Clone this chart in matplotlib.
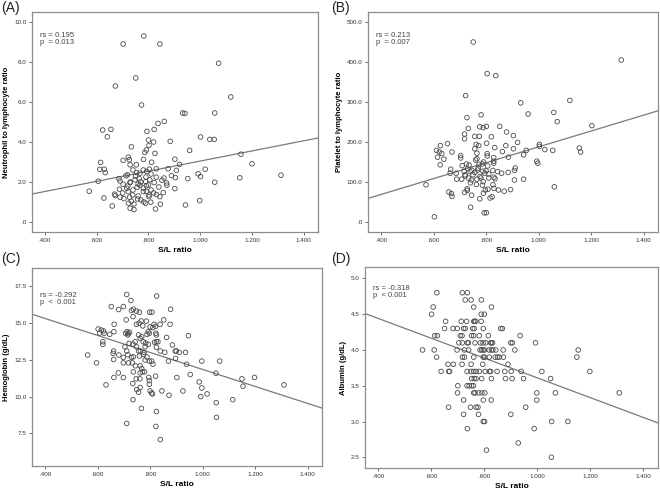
import matplotlib
matplotlib.use("Agg")
import matplotlib.pyplot as plt
import numpy as np

# ---------------- data ----------------
a_x = [0.782,0.702,0.844,1.071,0.751,0.672,1.118,0.773,0.932,0.941,1.056,0.861,0.623,0.655,0.641,0.794,0.822,0.837,
       1.037,1.054,1.001,0.800,0.820,0.884,0.802,0.734,0.792,0.959,0.786,0.825,1.157,0.722,0.726,0.702,0.781,0.812,
       0.902,0.615,1.200,0.920,0.729,0.753,0.612,0.629,0.633,0.803,0.793,0.830,0.876,1.019,0.908,0.992,0.719,0.713,
       0.767,0.754,0.889,0.904,1.001,1.312,1.153,0.952,0.686,0.830,0.748,0.789,0.805,0.852,0.606,1.056,0.702,0.767,
       0.729,0.822,0.764,0.792,0.756,0.871,0.716,0.902,0.571,0.722,0.780,0.792,0.857,0.688,0.739,0.669,0.672,0.802,
       0.831,0.802,0.628,0.690,0.705,0.727,0.758,0.771,0.844,0.734,0.782,0.809,0.789,0.723,0.744,0.998,0.943,0.846,
       0.660,0.729,0.744,0.827,
       0.750,0.760,0.780,0.740,0.800,0.810,0.770,0.790,0.730,0.720,0.820,0.760,0.700,0.840,0.860,0.870,0.780,0.740,
       0.810,0.690]
a_y = [9.30,8.90,8.90,7.94,7.20,6.80,6.25,5.85,5.45,5.43,5.45,5.03,4.60,4.63,4.26,4.53,4.63,4.93,
       4.13,4.13,4.25,4.10,4.00,4.03,3.83,3.76,3.60,3.58,3.48,3.43,3.39,3.24,3.11,3.08,3.13,2.99,
       3.14,2.98,2.91,2.88,2.86,2.86,2.63,2.64,2.47,2.64,2.53,2.66,2.66,2.64,2.58,2.41,2.36,2.31,
       2.44,2.47,2.32,2.22,2.27,2.34,2.21,2.17,2.17,2.24,2.11,2.02,2.11,2.09,2.04,1.99,1.89,1.84,
       1.97,1.97,2.17,1.81,1.74,1.84,1.69,1.67,1.54,1.52,1.52,1.52,1.47,1.64,1.35,1.39,1.32,1.35,
       1.37,1.27,1.20,1.24,1.17,1.24,1.15,1.10,1.27,1.04,1.00,0.99,0.94,0.94,0.90,1.07,0.85,0.89,
       0.80,0.69,0.62,0.65,
       2.30,1.90,1.70,1.60,1.85,1.60,2.00,2.25,2.00,1.80,1.45,1.30,1.45,1.75,2.20,1.95,2.60,2.60,
       2.40,2.05]

b_x = [0.751,1.315,0.804,0.837,0.722,0.932,1.119,1.058,0.960,1.071,0.781,0.727,0.732,1.203,0.776,0.789,0.801,0.852,
       0.718,0.757,0.774,0.718,0.820,0.878,0.904,0.653,0.626,0.762,0.772,0.802,0.920,1.003,1.003,0.833,0.875,0.904,
       0.943,0.953,1.024,1.054,1.155,1.160,0.611,0.622,0.631,0.670,0.615,0.639,0.625,0.804,0.804,0.862,0.885,0.757,
       0.765,0.765,0.703,0.703,0.829,0.829,0.829,0.993,0.997,0.725,0.709,0.735,0.773,0.786,0.806,0.911,0.665,0.663,
       0.686,0.716,0.739,0.746,0.757,0.768,0.788,0.795,0.826,0.844,0.859,0.884,0.908,0.720,0.733,0.707,0.688,0.744,
       0.765,0.777,0.789,0.810,0.830,0.834,0.908,0.943,0.571,0.763,0.786,0.826,0.830,0.728,0.797,0.807,0.847,0.869,
       0.893,1.060,0.658,0.668,0.670,0.718,0.728,0.745,0.790,0.776,0.815,0.823,0.741,0.793,0.801,0.603,
       0.750,0.770,0.790,0.740,0.810,0.760,0.780,0.730,0.800,0.720]
b_y = [450,405,371,366,316,298,304,274,270,251,268,261,234,241,238,236,239,239,
       220,214,214,208,213,225,216,196,191,194,191,197,199,194,189,186,191,183,
       168,179,181,179,185,175,179,175,171,175,162,157,143,171,165,176,162,183,
       172,158,166,160,161,152,147,152,147,145,141,142,144,145,140,135,132,122,
       122,127,126,129,124,130,127,122,129,126,122,124,129,115,110,107,107,105,
       107,114,101,110,112,108,105,107,93,94,92,93,84,83,80,82,80,77,
       81,88,75,71,64,74,79,67,72,58,60,63,37,23,23,13,
       118,135,150,98,120,155,110,133,128,118]

c_x = [0.711,0.825,0.727,0.652,0.698,0.680,0.729,0.736,0.748,0.759,0.798,0.807,0.878,0.852,0.709,0.735,0.748,0.766,
       0.758,0.663,0.786,0.815,0.838,0.876,0.772,0.800,0.810,0.821,0.602,0.614,0.623,0.608,0.625,0.662,0.646,0.712,
       0.717,0.707,0.722,0.715,0.793,0.797,0.788,0.822,0.824,0.946,0.756,0.768,0.762,0.863,0.620,0.620,0.774,0.783,
       0.817,0.824,0.830,0.720,0.743,0.735,0.793,0.885,0.704,0.748,0.824,0.781,0.661,0.711,0.756,0.763,0.777,0.839,
       0.856,0.896,0.900,0.911,0.935,0.659,0.715,0.775,0.562,0.681,0.759,0.788,0.698,0.729,0.736,0.661,0.698,0.718,
       0.732,0.781,0.797,0.806,0.870,0.897,0.997,1.065,0.596,0.811,0.939,0.744,0.762,0.768,0.771,0.779,0.762,0.679,
       0.736,0.953,1.051,0.662,0.698,0.747,0.761,0.795,0.821,0.902,1.150,1.198,1.310,0.797,0.734,0.987,0.632,0.797,
       1.154,0.749,0.762,0.997,0.800,0.845,0.925,0.756,0.806,0.809,1.017,0.872,0.993,1.052,1.115,0.735,0.767,0.824,
       1.053,0.711,0.822,0.839]
c_y = [16.91,16.80,16.50,16.09,16.09,15.89,15.82,15.91,15.78,15.71,15.71,15.71,15.91,15.19,15.19,15.41,14.89,15.12,
       14.96,14.89,15.10,14.89,14.89,14.89,14.78,14.71,14.67,14.76,14.57,14.50,14.44,14.30,14.28,14.39,14.21,14.39,
       14.26,14.28,14.35,14.17,14.39,14.28,14.21,14.28,14.17,14.12,14.17,14.05,13.94,14.00,13.71,13.53,13.71,13.62,
       13.67,13.71,13.71,13.60,13.71,13.55,13.53,13.49,13.37,13.37,13.33,13.37,13.08,13.08,13.08,13.08,12.99,13.08,
       12.99,13.08,13.08,12.99,12.99,12.92,12.83,12.85,12.81,12.81,12.74,12.67,12.65,12.65,12.69,12.51,12.28,12.28,
       12.28,12.47,12.40,12.40,12.40,12.58,12.40,12.40,12.28,12.19,12.19,12.08,12.08,11.90,11.67,11.67,11.60,11.60,
       11.67,11.49,11.58,11.29,11.29,11.20,11.20,11.29,11.38,11.29,11.20,11.29,10.79,11.08,10.88,10.99,10.79,10.83,
       10.70,10.47,10.61,10.58,10.38,10.38,10.38,10.29,10.24,10.18,10.18,10.09,10.00,9.59,9.79,9.79,9.20,8.99,
       8.59,8.18,7.98,7.09]

d_x = [0.621,0.717,0.736, 0.728,0.750,0.789, 0.607,0.760,0.827, 0.601,0.788,0.800,
       0.654,0.713,0.733,0.760,0.764,0.768,0.788,
       0.650,0.682,0.698,0.722,0.728,0.756,0.762,0.796,0.862,0.868,
       0.613,0.623,0.709,0.716,0.752,0.760,0.781,0.815,0.935,
       0.704,0.717,0.736,0.740,0.765,0.785,0.795,0.805,0.824,0.827,0.831,0.900,0.906,0.993,
       0.567,0.611,0.697,0.725,0.741,0.784,0.790,0.796,0.801,0.818,0.827,0.832,0.843,0.871,0.915,1.154,
       0.620,0.717,0.725,0.760,0.796,0.801,0.819,0.841,0.850,0.857,0.872,1.149,
       0.663,0.683,0.716,0.750,0.794,0.889,
       0.637,0.666,0.669,0.735,0.750,0.760,0.769,0.781,0.803,0.819,0.824,0.848,0.877,0.901,0.939,1.017,1.198,
       0.752,0.762,0.769,0.790,0.827,0.880,0.905,0.948,1.050,
       0.700,0.735,0.743,0.752,0.759,
       0.699,0.760,0.765,0.779,0.791,0.802,0.998,1.068,1.309,
       0.722,0.796,0.826,0.998,
       0.665,0.748,0.769,0.776,0.956,
       0.722,0.778,0.900,
       0.796,0.801,1.054,1.115,
       0.736,0.988, 0.928, 0.808, 1.053]
d_y = [4.8]*3 + [4.7]*3 + [4.6]*3 + [4.5]*3 + [4.4]*7 + [4.3]*10 + [4.2]*9 + [4.1]*14 + [4.0]*16 + \
      [3.9]*12 + [3.8]*6 + [3.7]*17 + [3.6]*9 + [3.5]*5 + [3.4]*9 + [3.3]*4 + [3.2]*5 + [3.1]*3 + \
      [3.0]*4 + [2.9]*2 + [2.7] + [2.6] + [2.5]

# fitted lines (values at the x-axis limits)
fit_x = [0.35, 1.455]
fit_a = [1.40, 4.20]
fit_b = [59.0, 278.0]
fit_c = [15.57, 9.22]
fit_d = [4.51, 2.98]

x_ticks = [0.4, 0.6, 0.8, 1.0, 1.2, 1.4]
x_ticklabels = [".400", ".600", ".800", "1.000", "1.200", "1.400"]
a_yticks = [0, 2, 4, 6, 8, 10]
a_yticklabels = [".0", "2.0", "4.0", "6.0", "8.0", "10.0"]
b_yticks = [0, 100, 200, 300, 400, 500]
b_yticklabels = [".0", "100.0", "200.0", "300.0", "400.0", "500.0"]
c_yticks = [7.5, 10.0, 12.5, 15.0, 17.5]
c_yticklabels = ["7.5", "10.0", "12.5", "15.0", "17.5"]
d_yticks = [2.5, 3.0, 3.5, 4.0, 4.5, 5.0]
d_yticklabels = ["2.5", "3.0", "3.5", "4.0", "4.5", "5.0"]

ylabels = ["Neutrophil to lymphocyte ratio", "Platelet to lymphocyte ratio",
           "Hemoglobin (g/dL)", "Albumin (g/dL)"]
panel_tags = ["(A)", "(B)", "(C)", "(D)"]
stats = ["rs = 0.195\np  = 0.013", "rs = 0.213\np  = 0.007",
         "rs = -0.292\np  <  0.001", "rs = -0.318\np  < 0.001"]

# ---------------- plotting ----------------
plt.rcParams['font.family'] = ['Liberation Sans', 'DejaVu Sans']
fig = plt.figure(figsize=(6.6, 4.9), dpi=100)

rects = [
    [32/660, 1-232/490, 286/660, 220/490],
    [368/660, 1-232/490, 290/660, 220/490],
    [32/660, 1-466/490, 290/660, 198/490],
    [365/660, 1-468/490, 293/660, 201/490],
]
xs = [a_x, b_x, c_x, d_x]
ys = [a_y, b_y, c_y, d_y]
fits = [fit_a, fit_b, fit_c, fit_d]
ylims = [(-0.5, 10.5), (-25, 525), (5.3, 18.7), (2.35, 5.16)]
yticks = [a_yticks, b_yticks, c_yticks, d_yticks]
yticklabels = [a_yticklabels, b_yticklabels, c_yticklabels, d_yticklabels]
stat_y = [0.91, 0.91, 0.88, 0.91]
tag_pos = [(0.0, 1.0), (0.5, 1.0), (0.0, 0.487), (0.5, 0.487)]

for i in range(4):
    ax = fig.add_axes(rects[i])
    ax.scatter(xs[i], ys[i], s=11, facecolors='none', edgecolors='#4a4a4a', linewidths=0.6, zorder=3)
    ax.plot(fit_x, fits[i], color='#7a7a7a', lw=0.9, zorder=2)
    ax.set_xlim(0.35, 1.455)
    ax.set_ylim(*ylims[i])
    ax.set_xticks(x_ticks)
    ax.set_xticklabels(x_ticklabels)
    ax.set_yticks(yticks[i])
    ax.set_yticklabels(yticklabels[i])
    ax.tick_params(labelsize=4.5, length=2, width=0.6, color='#555555', labelcolor='#333333', pad=2)
    for sp in ax.spines.values():
        sp.set_color('#8c8c8c')
        sp.set_linewidth(0.9)
    ax.set_ylabel(ylabels[i], fontsize=5.5, fontweight='bold', labelpad=3)
    ax.set_xlabel("S/L ratio", fontsize=6, fontweight='bold', labelpad=3)
    ax.text(0.028, stat_y[i], stats[i], transform=ax.transAxes, fontsize=5.5,
            color='#444444', va='top', ha='left', linespacing=1.0)
    fig.text(tag_pos[i][0] + 0.002, tag_pos[i][1] - 0.002, panel_tags[i], fontsize=10,
             va='top', ha='left', color='#222222')

fig.savefig("out.png", dpi=100)
